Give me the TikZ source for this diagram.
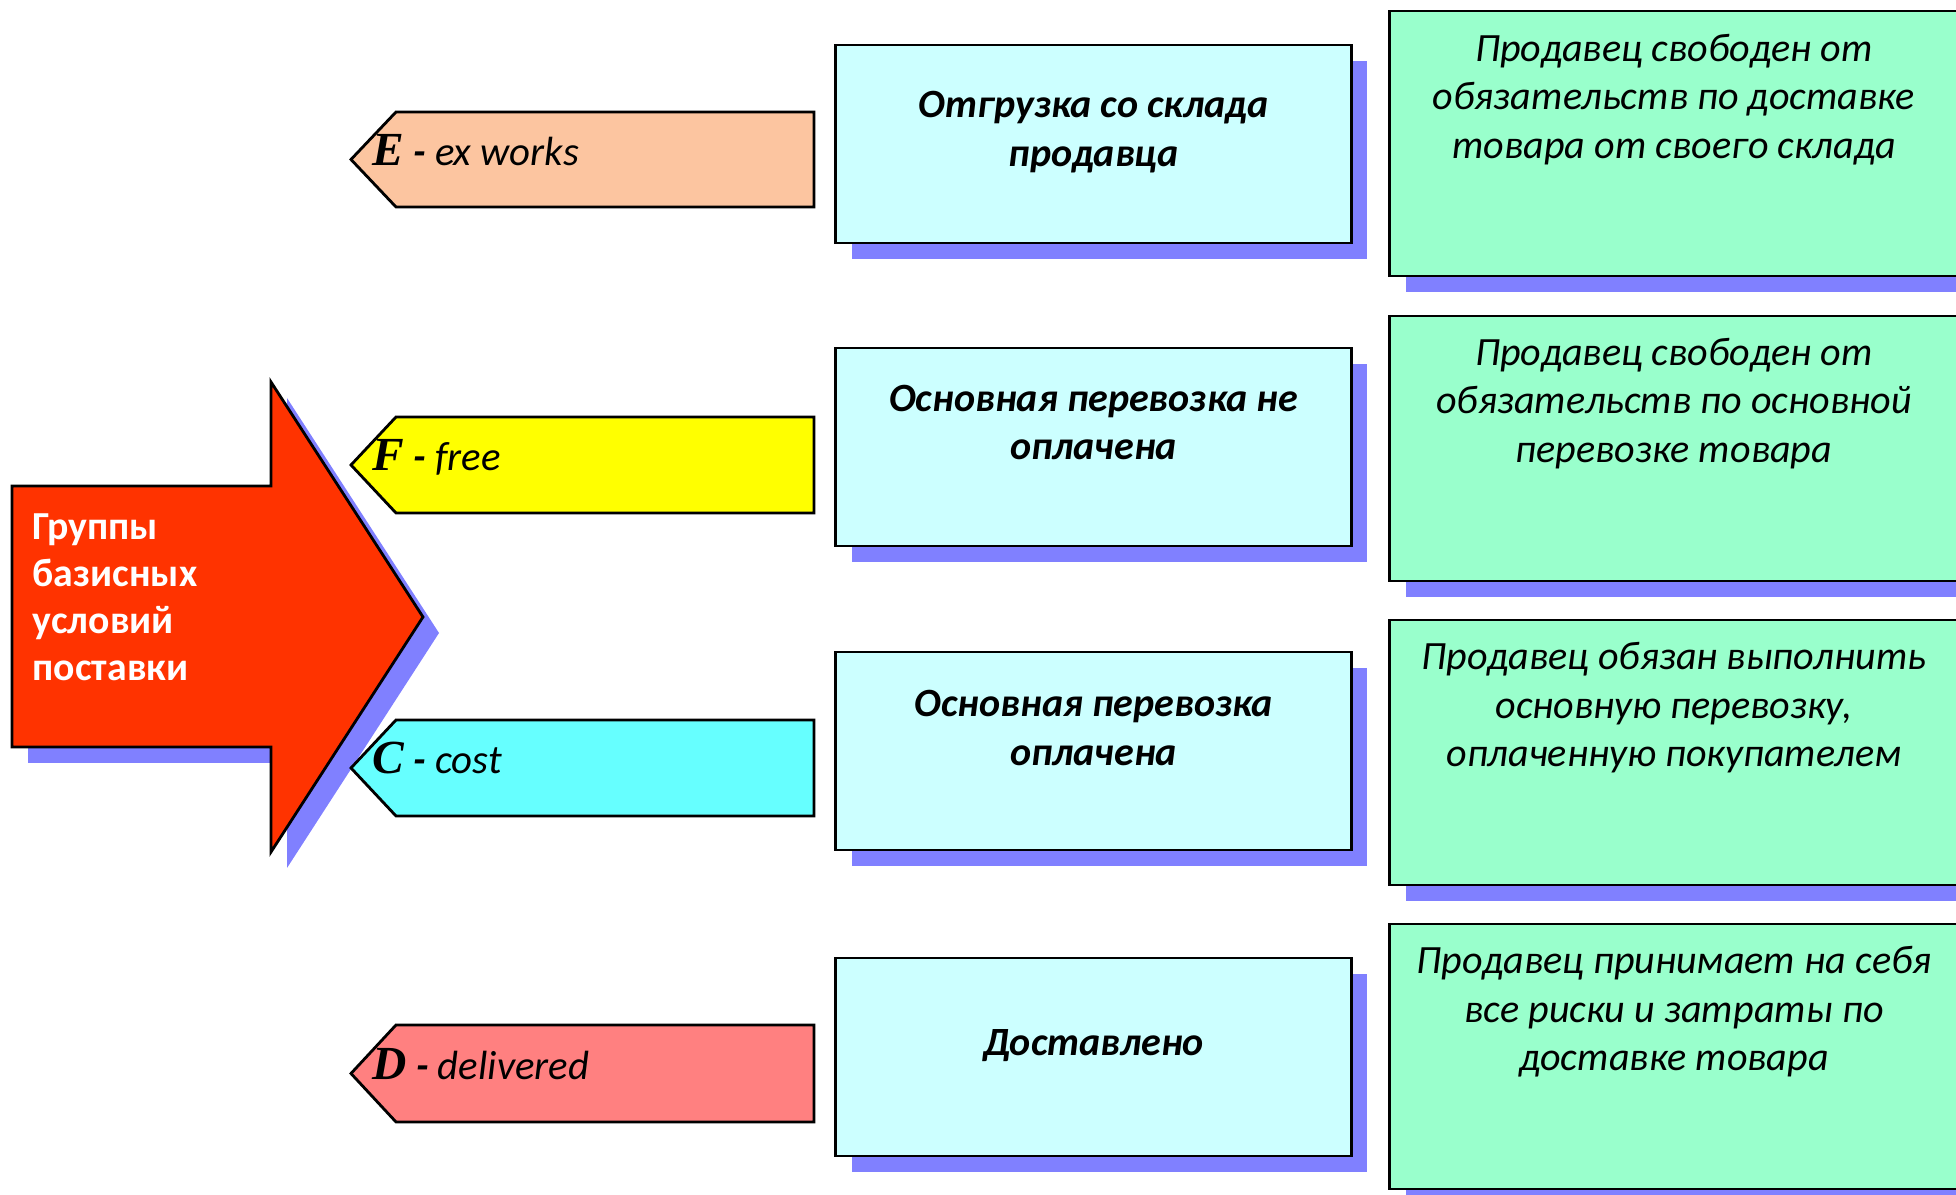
\documentclass[tikz,border=0pt]{standalone}
\usepackage{fontspec}
\setmainfont{Carlito}
\newfontfamily\serifbi{Liberation Serif}
\usetikzlibrary{positioning, shadows}
\definecolor{RedA}{HTML}{FF3300}
\definecolor{ShadowB}{HTML}{8080FF}
\definecolor{PeachB}{HTML}{FCC5A0}
\definecolor{YellowB}{HTML}{FFFF00}
\definecolor{CyanA}{HTML}{66FFFF}
\definecolor{PinkB}{HTML}{FF8080}
\definecolor{CyanB}{HTML}{CCFFFF}
\definecolor{GreenB}{HTML}{99FFCC}
\newcommand{\tagletter}[1]{{\fontsize{13.5}{14}\selectfont\serifbi\bfseries\itshape #1}}
\tikzset{
  boxshadow/.style={drop shadow={shadow xshift=0.16cm, shadow yshift=-0.16cm,
                    fill=ShadowB, opacity=1}},
  midbox/.style={draw, line width=0.8pt, fill=CyanB, minimum width=5.15cm,
                 minimum height=1.98cm, inner sep=0pt, boxshadow},
  notebox/.style={draw, line width=0.8pt, fill=GreenB, minimum width=5.68cm,
                  minimum height=2.65cm, inner sep=0pt, boxshadow},
  tagbox/.style={draw, line width=0.8pt},
  tagtxt/.style={anchor=base west, inner sep=0pt,
                 font=\fontsize{11.6}{14}\selectfont\itshape},
  midtxt/.style={align=center, inner sep=0pt,
                 font=\fontsize{11.4}{13.8}\selectfont\bfseries\itshape},
  notetxt/.style={align=center, inner sep=0pt,
                  font=\fontsize{11.4}{13.8}\selectfont\itshape},
  grptxt/.style={align=left, anchor=west, inner sep=0pt, text=white,
                 font=\fontsize{11.3}{13.4}\selectfont\bfseries},
}

\begin{document}
\begin{tikzpicture}[x=0.01cm,y=-0.01cm]
  \useasboundingbox (0,0) rectangle (1956,1195);
  \clip (0,0) rectangle (1956,1195);

  % big arrow
  \draw[line width=0.8pt, fill=RedA, boxshadow]
    (12,486) -- (271,486) -- (271,382) -- (423,617) -- (271,852)
    -- (271,747) -- (12,747) -- cycle;
  \node[grptxt] (grp) at (32,597) {Группы\\базисных\\условий\\поставки};

  % group tags
  \draw[tagbox, fill=PeachB]  (814,112)  -- (396,112)  -- (351,159.5) -- (396,207)  -- (814,207)  -- cycle;
  \draw[tagbox, fill=YellowB] (814,417)  -- (396,417)  -- (351,465)   -- (396,513)  -- (814,513)  -- cycle;
  \draw[tagbox, fill=CyanA]   (814,720)  -- (396,720)  -- (351,768)   -- (396,816)  -- (814,816)  -- cycle;
  \draw[tagbox, fill=PinkB]   (814,1025) -- (396,1025) -- (351,1073.5) -- (396,1122) -- (814,1122) -- cycle;
  \node[tagtxt] (tE) at (372,166) {\tagletter{E}\textbf{ - }ex works};
  \node[tagtxt] (tF) at (372,470.5) {\tagletter{F}\textbf{ - }free};
  \node[tagtxt] (tC) at (372,773.5) {\tagletter{C}\textbf{ - }cost};
  \node[tagtxt] (tD) at (372,1080) {\tagletter{D}\textbf{ - }delivered};

  % middle column
  \node[midbox] (m1) at (1093.5,144) {};
  \node[midbox] (m2) at (1093.5,447) {};
  \node[midbox] (m3) at (1093.5,751) {};
  \node[midbox] (m4) at (1093.5,1057) {};
  \node[midtxt] (m1t) at (1093.5,132) {Отгрузка со склада\\продавца};
  \node[midtxt] (m2t) at (1093.5,422.5) {Основная перевозка не\\оплачена};
  \node[midtxt] (m3t) at (1093.5,728) {Основная перевозка\\оплачена};
  \node[midtxt] (m4t) at (1093.5,1046) {Доставлено};

  % right column
  \node[notebox] (n1) at (1674,143.5) {};
  \node[notebox] (n2) at (1674,448.5) {};
  \node[notebox] (n3) at (1674,752.5) {};
  \node[notebox] (n4) at (1674,1056.5) {};
  \node[notetxt] (n1t) at (1674,99.5) {Продавец свободен от\\обязательств по доставке\\товара от своего склада};
  \node[notetxt] (n2t) at (1674,403.5) {Продавец свободен от\\обязательств по основной\\перевозке товара};
  \node[notetxt] (n3t) at (1674,708) {Продавец обязан выполнить\\основную перевозку,\\оплаченную покупателем};
  \node[notetxt] (n4t) at (1674,1012) {Продавец принимает на себя\\все риски и затраты по\\доставке товара};
\end{tikzpicture}
\end{document}
